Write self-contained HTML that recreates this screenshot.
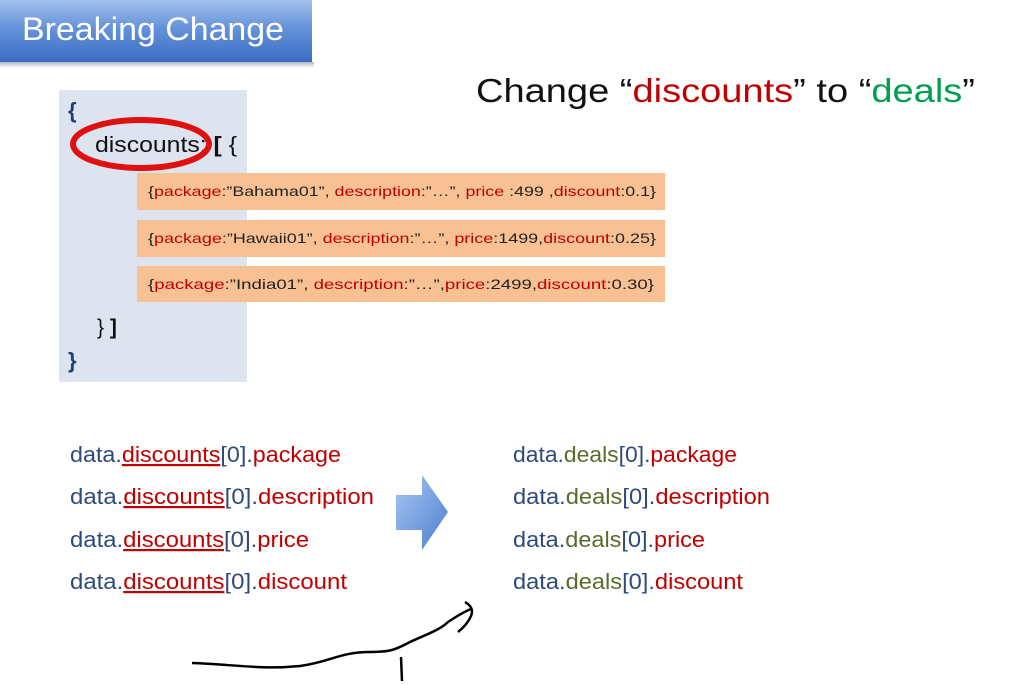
<!DOCTYPE html>
<html><head><meta charset="utf-8"><style>
html,body{margin:0;padding:0;background:#fff;}
svg{display:block;font-family:"Liberation Sans",sans-serif;}
</style></head><body>
<svg width="1021" height="685" viewBox="0 0 1021 685" xmlns="http://www.w3.org/2000/svg">
<defs>
<linearGradient id="tb" x1="0" y1="0" x2="0" y2="1">
<stop offset="0" stop-color="#a3c0ec"/><stop offset="0.45" stop-color="#6593da"/><stop offset="1" stop-color="#3a6cc2"/>
</linearGradient>
<linearGradient id="ar" x1="0" y1="0" x2="1" y2="1">
<stop offset="0" stop-color="#a9c6f0"/><stop offset="1" stop-color="#4a7fd0"/>
</linearGradient>
<linearGradient id="sh" x1="0" y1="0" x2="0" y2="1">
<stop offset="0" stop-color="#b0b8c4"/><stop offset="1" stop-color="#ffffff"/>
</linearGradient>
</defs>
<rect x="0" y="62" width="314" height="6" fill="url(#sh)"/>
<rect x="0" y="0" width="312" height="62" fill="url(#tb)"/>
<text x="22" y="40" font-size="32" fill="#fff" textLength="262" lengthAdjust="spacingAndGlyphs">Breaking Change</text>

<text x="476" y="102" font-size="33" fill="#111" textLength="499" lengthAdjust="spacingAndGlyphs">Change  “<tspan fill="#c00000">discounts</tspan>” to  “<tspan fill="#00a050">deals</tspan>”</text>

<rect x="59" y="90" width="188" height="292" fill="#dde3ef"/>
<text x="68" y="118" font-size="22" font-weight="bold" fill="#1f3f7a">{</text>
<text x="95" y="152" font-size="22" fill="#111" textLength="142" lengthAdjust="spacingAndGlyphs">discounts:  <tspan font-weight="bold">[</tspan> {</text>
<ellipse cx="141" cy="144" rx="68" ry="24" fill="none" stroke="#e01010" stroke-width="6"/>
<text x="97" y="334" font-size="21" fill="#111">} <tspan font-weight="bold">]</tspan></text>
<text x="68" y="368" font-size="22" font-weight="bold" fill="#1f3f7a">}</text>

<rect x="137" y="173" width="528" height="37" fill="#f8c194"/>
<rect x="137" y="220" width="528" height="37" fill="#f8c194"/>
<rect x="137" y="266" width="528" height="36" fill="#f8c194"/>
<g font-size="14" fill="#222">
<text x="148" y="196" textLength="508" lengthAdjust="spacingAndGlyphs">{<tspan fill="#c00000">package</tspan>:”Bahama01”, <tspan fill="#c00000">description</tspan>:”…”, <tspan fill="#c00000">price</tspan> :499 ,<tspan fill="#c00000">discount</tspan>:0.1}</text>
<text x="148" y="243" textLength="508" lengthAdjust="spacingAndGlyphs">{<tspan fill="#c00000">package</tspan>:”Hawaii01”, <tspan fill="#c00000">description</tspan>:”…”, <tspan fill="#c00000">price</tspan>:1499,<tspan fill="#c00000">discount</tspan>:0.25}</text>
<text x="148" y="289" textLength="506" lengthAdjust="spacingAndGlyphs">{<tspan fill="#c00000">package</tspan>:”India01”, <tspan fill="#c00000">description</tspan>:”…”,<tspan fill="#c00000">price</tspan>:2499,<tspan fill="#c00000">discount</tspan>:0.30}</text>
</g>

<g font-size="22" fill="#2e4a7a">
<text x="70" y="462" textLength="271" lengthAdjust="spacingAndGlyphs">data.<tspan fill="#c00000" text-decoration="underline">discounts</tspan>[0].<tspan fill="#c00000">package</tspan></text>
<text x="70" y="504" textLength="304" lengthAdjust="spacingAndGlyphs">data.<tspan fill="#c00000" text-decoration="underline">discounts</tspan>[0].<tspan fill="#c00000">description</tspan></text>
<text x="70" y="547" textLength="239" lengthAdjust="spacingAndGlyphs">data.<tspan fill="#c00000" text-decoration="underline">discounts</tspan>[0].<tspan fill="#c00000">price</tspan></text>
<text x="70" y="589" textLength="277" lengthAdjust="spacingAndGlyphs">data.<tspan fill="#c00000" text-decoration="underline">discounts</tspan>[0].<tspan fill="#c00000">discount</tspan></text>

<text x="513" y="462" textLength="224" lengthAdjust="spacingAndGlyphs">data.<tspan fill="#5a6b2c">deals</tspan>[0].<tspan fill="#c00000">package</tspan></text>
<text x="513" y="504" textLength="257" lengthAdjust="spacingAndGlyphs">data.<tspan fill="#5a6b2c">deals</tspan>[0].<tspan fill="#c00000">description</tspan></text>
<text x="513" y="547" textLength="192" lengthAdjust="spacingAndGlyphs">data.<tspan fill="#5a6b2c">deals</tspan>[0].<tspan fill="#c00000">price</tspan></text>
<text x="513" y="589" textLength="230" lengthAdjust="spacingAndGlyphs">data.<tspan fill="#5a6b2c">deals</tspan>[0].<tspan fill="#c00000">discount</tspan></text>
</g>

<polygon points="396,495 422,495 422,475 448,512 422,550 422,530 396,530" fill="url(#ar)"/>

<path d="M192,663 C230,664 260,670 300,666 C330,662 340,652 370,652 C390,652 395,650 410,642 C425,635 440,630 448,622 C460,614 466,611 471,609" fill="none" stroke="#000" stroke-width="2.5"/>
<path d="M465,602 C470,605 474,609 471,616 C468,623 463,628 458,632" fill="none" stroke="#000" stroke-width="2.5"/>
<line x1="401" y1="657" x2="402" y2="681" stroke="#000" stroke-width="2.5"/>
</svg>
</body></html>
